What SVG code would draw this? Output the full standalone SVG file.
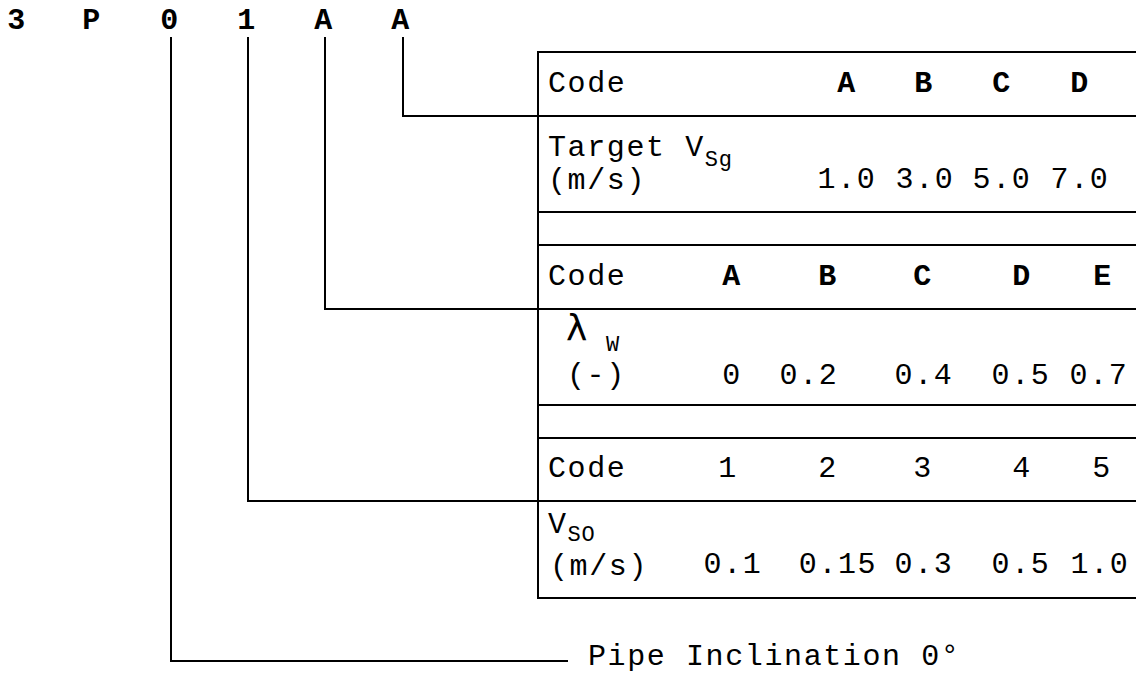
<svg xmlns="http://www.w3.org/2000/svg" width="1136" height="673" viewBox="0 0 1136 673">
<style>
text{font-family:"Liberation Mono","Courier New",monospace;font-size:30px;fill:#000;letter-spacing:1.6px}
.c{text-anchor:middle}
.b{font-weight:bold}
.sub{font-size:22px;letter-spacing:0.8px}
.ln{fill:none;stroke:#000;stroke-width:2}
</style>
<rect width="1136" height="673" fill="#fff"/>
<g id="code">
<text class="c b" x="17" y="29">3</text>
<text class="c b" x="92" y="29">P</text>
<text class="c b" x="170" y="29">0</text>
<text class="c b" x="247" y="29">1</text>
<text class="c b" x="324" y="29">A</text>
<text class="c b" x="401" y="29">A</text>
</g>
<g id="connectors">
<path class="ln" d="M171 37V661H568"/>
<path class="ln" d="M248 37V501H538"/>
<path class="ln" d="M325 37V309H538"/>
<path class="ln" d="M403 37V116H538"/>
</g>
<g id="table">
<path class="ln" d="M1136 52H538V598H1136M538 116H1136M538 212H1136M538 245H1136M538 309H1136M538 405H1136M538 438H1136M538 501H1136"/>
</g>
<g id="vsg">
<text x="548" y="92">Code</text>
<text class="c b" x="847" y="92">A</text>
<text class="c b" x="924" y="92">B</text>
<text class="c b" x="1002" y="92">C</text>
<text class="c b" x="1080" y="92">D</text>
<text x="548" y="156">Target V<tspan class="sub" dy="10">Sg</tspan><tspan x="548" y="189">(m/s)</tspan></text>
<text class="c" x="847" y="188">1.0</text>
<text class="c" x="925" y="188">3.0</text>
<text class="c" x="1002" y="188">5.0</text>
<text class="c" x="1080" y="188">7.0</text>
</g>
<g id="lambda">
<text x="548" y="285">Code</text>
<text class="c b" x="732" y="285">A</text>
<text class="c b" x="828" y="285">B</text>
<text class="c b" x="923" y="285">C</text>
<text class="c b" x="1022" y="285">D</text>
<text class="c b" x="1103" y="285">E</text>
<text x="566" y="340" style="font-family:'DejaVu Sans',sans-serif;font-size:36px;letter-spacing:0">λ</text>
<text class="sub" x="606" y="351">W</text>
<text x="567" y="384">(-)</text>
<text class="c" x="732" y="384">0</text>
<text class="c" x="809" y="384">0.2</text>
<text class="c" x="924" y="384">0.4</text>
<text class="c" x="1021" y="384">0.5</text>
<text class="c" x="1099" y="384">0.7</text>
</g>
<g id="vso">
<text x="548" y="477">Code</text>
<text class="c" x="728" y="477">1</text>
<text class="c" x="828" y="477">2</text>
<text class="c" x="923" y="477">3</text>
<text class="c" x="1022" y="477">4</text>
<text class="c" x="1102" y="477">5</text>
<text x="548" y="533">V<tspan class="sub" dy="8">SO</tspan></text>
<text x="550" y="575">(m/s)</text>
<text class="c" x="733" y="573">0.1</text>
<text class="c" x="838" y="573">0.15</text>
<text class="c" x="924" y="573">0.3</text>
<text class="c" x="1021" y="573">0.5</text>
<text class="c" x="1100" y="573">1.0</text>
</g>
<g id="incl">
<text x="588" y="665">Pipe Inclination 0°</text>
</g>
</svg>
